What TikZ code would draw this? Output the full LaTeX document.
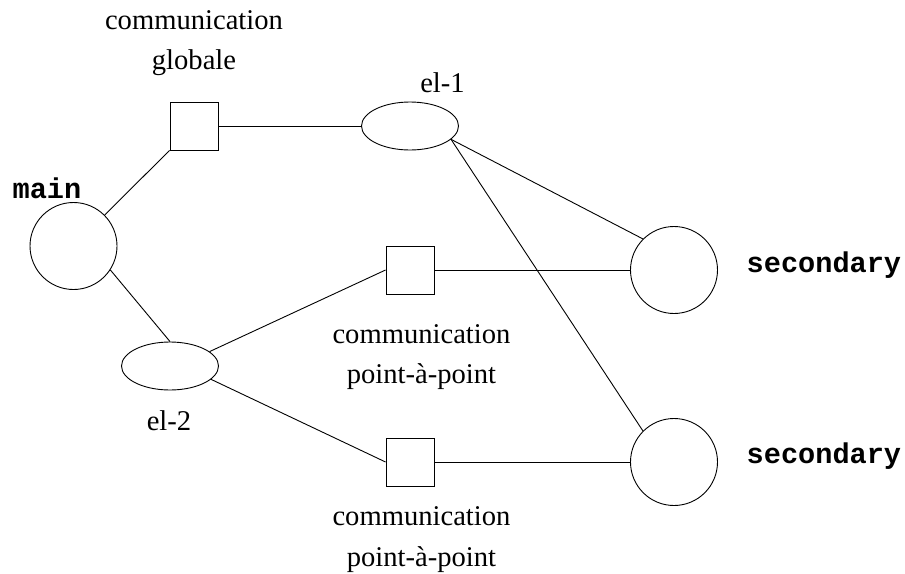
\documentclass[tikz,border=0pt]{standalone}
\usepackage{fontspec}
\setmainfont{Liberation Serif}
\newfontfamily\monofam{Liberation Mono}
\usetikzlibrary{shapes.geometric}
\tikzset{
  lbl/.style={inner sep=0pt, font=\fontsize{28.6}{40.5}\selectfont, align=center, anchor=base},
  codelbl/.style={inner sep=0pt, font=\monofam\bfseries\fontsize{28.6}{34}\selectfont},
  proc/.style={circle, draw, line width=0.9pt, minimum size=87pt, inner sep=0pt},
  comm/.style={rectangle, draw, line width=0.9pt, minimum size=48pt, inner sep=0pt},
  elem/.style={ellipse, draw, line width=0.9pt, minimum width=97pt, minimum height=48pt, inner sep=0pt},
  link/.style={line width=0.9pt}
}
\begin{document}
\begin{tikzpicture}[x=1pt, y=-1pt]
\useasboundingbox (0,0) rectangle (905,573);
% nodes
\node[proc] (main) at (73.5,246) {};
\node[proc] (sec1) at (674,270) {};
\node[proc] (sec2) at (674,462) {};
\node[comm] (sq1) at (194,126) {};
\node[comm] (sq2) at (410,270) {};
\node[comm] (sq3) at (410,462) {};
\node[elem] (el1) at (410,126) {};
\node[elem] (el2) at (170,366) {};
% labels (base anchor = baseline of last line)
\node[codelbl, anchor=base] (mainlbl) at (47,198) {main};
\node[codelbl, anchor=base west] (sec1lbl) at (746.5,272) {secondary};
\node[codelbl, anchor=base west] (sec2lbl) at (746.5,463) {secondary};
\node[lbl] (sq1lbl) at (194,69.8) {communication\\globale};
\node[lbl] (sq2lbl) at (421.5,383.8) {communication\\point-à-point};
\node[lbl] (sq3lbl) at (421.5,566) {communication\\point-à-point};
\node[lbl] (el1lbl) at (442.5,92.3) {el-1};
\node[lbl] (el2lbl) at (169,430) {el-2};
% connectors
\draw[link] (main) -- (sq1.south west);
\draw[link] (sq1.east) -- (el1.west);
\draw[link] (main.-33) -- (el2.north);
\draw[link] (el1.-18) -- (sec1.135);
\draw[link] (el1.-18) -- (sec2.135);
\draw[link] (sq2.east) -- (sec1.west);
\draw[link] (el2.20) -- (sq2.west);
\draw[link] (el2.-18) -- (sq3.west);
\draw[link] (sq3.east) -- (sec2.west);
\end{tikzpicture}
\end{document}
